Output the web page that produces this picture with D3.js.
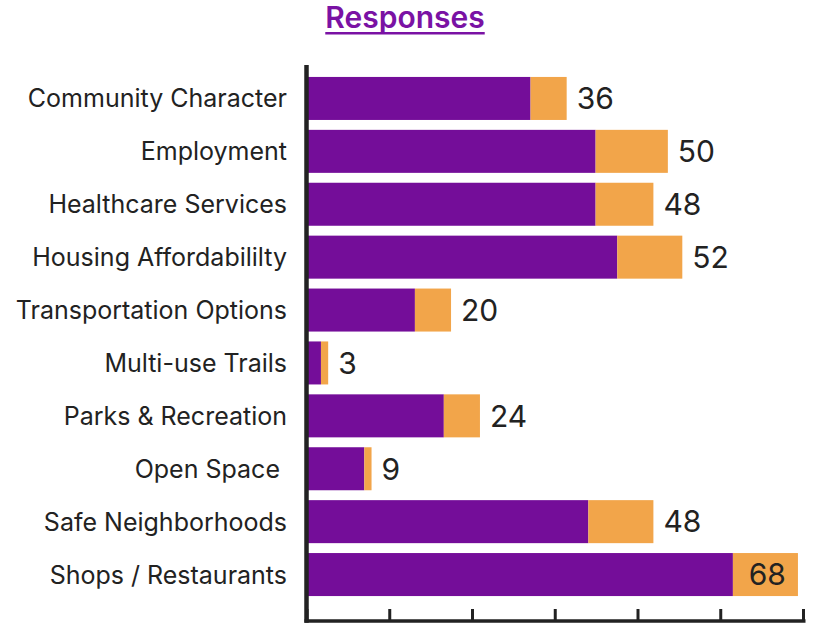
<!DOCTYPE html>
<html>
<head>
<meta charset="utf-8">
<script src="https://cdn.jsdelivr.net/npm/d3@7"></script>
<style>
  html, body { margin: 0; padding: 0; background: #fff; }
  svg { display: block; }
</style>
</head>
<body>
<svg id="chart" width="823" height="625"></svg>
<script>
// Survey response counts per topic, split into two stacked parts
const categories = [
  "Community Character",
  "Employment",
  "Healthcare Services",
  "Housing Affordabililty",
  "Transportation Options",
  "Multi-use Trails",
  "Parks & Recreation",
  "Open Space ",
  "Safe Neighborhoods",
  "Shops / Restaurants"
];
const primaryResponses   = [31, 40, 40, 43, 15, 2, 19, 8, 39, 59];
const secondaryResponses = [5, 10, 8, 9, 5, 1, 5, 1, 9, 9];
const totalResponses     = [36, 50, 48, 52, 20, 3, 24, 9, 48, 68];

const W = 823, H = 625;
const purple = "#740d99";
const orange = "#f2a54a";
const ink = "#222222";

const svg = d3.select("#chart");

const xMax = 68.7;
const x = d3.scaleLinear().domain([0, xMax]).range([306.5, 803]);
const y = d3.scaleBand().domain(categories).range([72, 601])
  .paddingInner(0.187).paddingOuter(0.0935);

const rows = categories.map((c, i) => ({
  cat: c,
  a: primaryResponses[i],
  b: secondaryResponses[i],
  total: totalResponses[i]
}));

// Stacked bars
const g = svg.append("g");
g.selectAll("rect.a").data(rows).join("rect")
  .attr("class", "a")
  .attr("x", x(0))
  .attr("y", d => y(d.cat))
  .attr("width", d => x(d.a) - x(0))
  .attr("height", y.bandwidth())
  .attr("fill", purple);

g.selectAll("rect.b").data(rows).join("rect")
  .attr("class", "b")
  .attr("x", d => x(d.a))
  .attr("y", d => y(d.cat))
  .attr("width", d => x(d.a + d.b) - x(d.a))
  .attr("height", y.bandwidth())
  .attr("fill", orange);

// Total labels: outside the bar, or inside when there is no room
g.selectAll("text.val").data(rows).join("text")
  .attr("class", "val")
  .attr("x", d => {
    const end = x(d.a + d.b);
    return end + 60 > W ? end - 12 : end + 10;
  })
  .attr("text-anchor", d => x(d.a + d.b) + 60 > W ? "end" : "start")
  .attr("y", d => y(d.cat) + y.bandwidth() / 2)
  .attr("dy", "0.36em")
  .attr("font-family", "Inter, 'Liberation Sans', sans-serif")
  .attr("font-size", 30)
  .attr("fill", ink)
  .text(d => d.total);

// Category labels
svg.append("g").selectAll("text").data(rows).join("text")
  .attr("x", 287)
  .attr("y", d => y(d.cat) + y.bandwidth() / 2)
  .attr("dy", "0.36em")
  .attr("text-anchor", "end")
  .attr("font-family", "Inter, 'Liberation Sans', sans-serif")
  .attr("font-size", 25)
  .attr("fill", ink)
  .style("white-space", "pre")
  .text(d => d.cat);

// Bottom axis with upward ticks, no labels
const tickValues = d3.range(0, 7).map(i => i * xMax / 6);
const axisY = 621;
const axis = svg.append("g").attr("transform", `translate(0,${axisY})`)
  .call(d3.axisBottom(x).tickValues(tickValues).tickSize(-12).tickFormat(""));
axis.select(".domain").remove();
axis.selectAll(".tick line").attr("stroke", ink).attr("stroke-width", 3);
svg.append("line")
  .attr("x1", x(0) - 2).attr("x2", x(xMax) + 2.5)
  .attr("y1", axisY).attr("y2", axisY)
  .attr("stroke", ink).attr("stroke-width", 3.5);

// Vertical axis line
svg.append("line")
  .attr("x1", x(0)).attr("x2", x(0))
  .attr("y1", 65).attr("y2", axisY + 1.75)
  .attr("stroke", ink).attr("stroke-width", 4.5);

// Title with underline
const title = svg.append("text")
  .attr("x", 405).attr("y", 28)
  .attr("text-anchor", "middle")
  .attr("font-family", "Inter, 'Liberation Sans', sans-serif")
  .attr("font-weight", 600)
  .attr("font-size", 30)
  .attr("fill", "#7a12a4")
  .text("Responses");
const tw = title.node().getComputedTextLength();
svg.append("rect")
  .attr("x", 405 - tw / 2).attr("y", 32)
  .attr("width", tw).attr("height", 2.5)
  .attr("fill", "#7a12a4");
</script>
</body>
</html>
